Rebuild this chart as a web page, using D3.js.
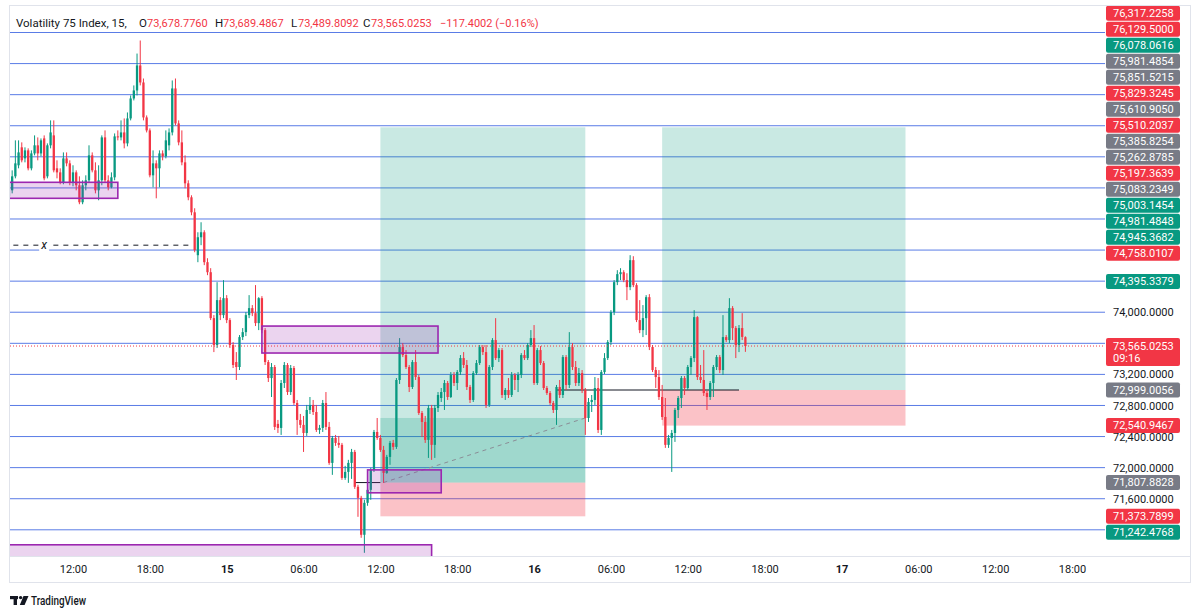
<!DOCTYPE html>
<html><head><meta charset="utf-8">
<script src="https://cdn.jsdelivr.net/npm/d3@7"></script>
<style>
html,body{margin:0;padding:0;background:#fff;}
svg{display:block;font-family:Roboto,"Noto Sans",sans-serif;}
</style></head><body>
<svg id="c" width="1200" height="615"></svg>
<script>
// ---------------- DATA ----------------
const symbolTitle = "Volatility 75 Index, 15,";
const startTime = "2024-05-14T07:00:00Z";
const barMinutes = 15;
const open = [
75492,75569,75749,75891,76122,75980,76083,75852,76044,76148,
76044,76237,75749,76148,76276,75852,75800,75672,75980,75916,
75672,75800,75634,75415,75634,75698,76019,75826,75569,75698,
76250,75698,75608,75736,76263,76250,76314,76173,76494,76751,
76854,77176,76957,76507,76340,75762,75916,75852,76044,76006,
76148,76314,76880,76430,76186,75929,75659,75479,75286,74734,
74965,75029,74644,74515,73924,73578,74156,73963,74181,73899,
73578,73359,73295,73680,73744,73963,74053,73988,73860,74181,
73770,73359,73153,73295,72563,72511,73089,73321,72973,73282,
72832,72614,72550,72446,72742,72807,72716,72485,72511,72832,
72524,72061,72382,72318,72293,71868,71945,72061,72202,71753,
71611,71136,71547,71714,71971,72459,72382,72228,71932,72138,
72318,72267,73128,73552,73449,73295,73038,73359,73166,72703,
72588,72357,72768,72293,72768,72896,72973,73089,72909,73192,
73089,73230,73410,73321,73038,72871,73217,73346,73552,73487,
72807,73295,73642,73410,73513,72935,72999,72935,73192,73128,
73192,73449,73410,73578,73667,73089,73513,73346,73025,72960,
72832,72742,73038,72935,73423,73064,73552,73295,73089,73217,
72999,72639,72845,72871,73025,72485,73230,73410,73616,74001,
74387,74490,74515,74413,74323,74670,74349,73899,73770,73924,
74194,73552,73256,73166,72909,72652,72293,72382,72446,72742,
72896,73153,73025,73295,73410,73937,73166,73128,72960,72909,
73089,73295,73423,73256,73680,73642,74053,73796,73578,73796,
73678.7760];
const high = [
75929,75826,76212,76212,76186,76122,76109,76083,76276,76250,
76237,76276,76173,76469,76469,75955,75852,76057,76057,75955,
75891,75826,75749,75698,75762,76148,76057,75929,75891,76276,
76340,75762,75800,76301,76340,76469,76494,76571,76790,76919,
77329,77497,77008,76533,76366,76083,75955,76083,76083,76340,
76366,76983,77008,76469,76340,76019,75698,75505,75338,75029,
75158,75055,74695,74567,73963,74387,74194,74413,74220,73924,
73616,73487,73706,73796,74001,74220,74092,74349,74194,74207,
73796,73385,73346,73321,72614,73128,73359,73346,73321,73308,
72871,72691,72665,72807,72909,72871,72807,72550,72871,72973,
72588,72408,72421,72408,72318,72023,72100,72241,72228,71779,
71637,71586,71740,71997,72485,72639,72421,72280,72164,72344,
72357,73153,73667,73603,73513,73321,73385,73513,73192,72729,
72665,72807,72807,72807,72973,73025,73128,73115,73230,73230,
73256,73449,73487,73385,73064,73243,73385,73578,73578,73578,
73321,73667,73924,73539,73539,73025,73153,73230,73217,73230,
73474,73513,73603,73770,73835,73539,73565,73372,73051,72986,
72858,73064,73128,73449,73449,73744,73603,73372,73282,73256,
73025,72896,72935,73166,73153,73256,73474,73642,74027,74413,
74541,74567,74541,74502,74734,74721,74374,74156,74092,74220,
74233,73578,73295,73256,73064,72896,72421,72485,72768,72922,
73179,73179,73321,73436,74027,73950,73321,73513,72986,73115,
73321,73449,73449,73963,73706,74181,74079,73822,73835,73988,
73689.4867];
const low = [
75441,75530,75723,75852,75929,75929,75826,75826,76019,75955,
76006,75698,75723,76109,75800,75723,75647,75647,75878,75634,
75621,75569,75390,75390,75569,75672,75800,75530,75441,75634,
75672,75569,75595,75698,76212,76212,76109,76135,76469,76726,
76790,76919,76469,76314,75736,75608,75466,75608,75955,75980,
76083,76276,76405,76148,75891,75595,75441,75248,74772,74644,
74863,74606,74477,73899,73487,73539,73899,73924,73860,73539,
73282,73128,73256,73642,73693,73924,73950,73822,73770,73731,
73321,73102,72909,72485,72446,72421,73025,72935,72935,72807,
72421,72511,72202,72408,72691,72678,72459,72434,72459,72485,
72036,71907,72280,72254,71843,71843,71804,71855,71727,71367,
71097,70904,71509,71586,71945,72357,72202,71804,71920,72036,
72228,72241,73077,73423,73269,72973,73012,73128,72678,72395,
72318,72125,72100,72125,72716,72845,72742,72871,72896,73051,
72999,73192,73282,72999,72832,72845,73192,73321,73449,72768,
72781,73256,73385,73359,72896,72871,72896,72909,72999,72973,
73153,73385,73385,73552,73064,73064,73321,72999,72935,72807,
72703,72550,72896,72896,72999,73025,73256,73051,73051,72960,
72421,72588,72716,72807,72446,72421,73205,73385,73578,73963,
74349,74413,74387,74156,74284,74323,73873,73731,73680,73706,
73513,73230,73025,72871,72614,72254,72254,71945,72331,72639,
72768,72935,72999,73192,73359,73128,73089,72922,72742,72871,
72909,73256,73217,73192,73616,73603,73642,73410,73487,73642,
73489.8092];
const close = [
75698,75749,75916,76057,75955,76083,75852,76044,76148,76044,
76212,75723,76148,76314,75826,75800,75672,75980,75916,75672,
75800,75634,75415,75634,75698,76019,75826,75569,75698,76250,
75698,75608,75736,76263,76250,76314,76173,76494,76751,76854,
77176,76957,76507,76340,75762,75916,75852,76044,76006,76212,
76314,76880,76430,76186,75929,75659,75479,75286,74798,74965,
75029,74644,74515,73924,73578,74156,73963,74181,73899,73578,
73321,73295,73680,73744,73963,74053,73988,73860,74181,73770,
73359,73153,73295,72524,72511,73089,73321,72973,73282,72832,
72614,72550,72446,72742,72807,72716,72485,72511,72832,72524,
72061,72382,72318,72293,71868,71945,72061,72202,71753,71611,
71136,71547,71714,71971,72459,72382,72228,71932,72138,72318,
72267,73128,73552,73449,73295,73038,73359,73166,72703,72588,
72357,72768,72293,72768,72935,72973,73089,72909,73192,73089,
73230,73410,73321,73038,72871,73217,73346,73552,73487,72807,
73295,73642,73410,73513,72935,72999,72935,73192,73128,73192,
73449,73410,73578,73667,73089,73513,73346,73025,72960,72832,
72742,73038,72935,73423,73064,73552,73295,73089,73217,72999,
72639,72845,72871,73025,72485,73230,73410,73616,74001,74387,
74490,74515,74413,74323,74670,74349,73899,73770,73924,74194,
73552,73256,73166,72909,72652,72293,72382,72446,72742,72896,
73153,73025,73295,73410,73937,73166,73128,72960,72909,73089,
73295,73423,73256,73680,73642,74053,73796,73578,73796,73682.4255,
73565.0253];

const priceTicks = [71200,71600,72000,72400,72800,73200,73600,74000,74400,74800,75200,75600,76000,76400,76800,77200,77600];
const timeTicks = ["2024-05-14T12:00:00Z","2024-05-14T18:00:00Z","2024-05-15T00:00:00Z","2024-05-15T06:00:00Z",
  "2024-05-15T12:00:00Z","2024-05-15T18:00:00Z","2024-05-16T00:00:00Z","2024-05-16T06:00:00Z",
  "2024-05-16T12:00:00Z","2024-05-16T18:00:00Z","2024-05-17T00:00:00Z","2024-05-17T06:00:00Z",
  "2024-05-17T12:00:00Z","2024-05-17T18:00:00Z"];

// price-scale labels of drawings
const axisLabelValues = [76317.2258,76129.5000,76078.0616,75981.4854,75851.5215,75829.3245,75610.9050,75510.2037,
  75385.8254,75262.8785,75197.3639,75083.2349,75003.1454,74981.4848,74945.3682,74758.0107,74395.3379,
  72999.0056,72540.9467,71807.8828,71373.7899,71242.4768];
const axisLabelKinds = ["down","down","up","neutral","neutral","down","neutral","down",
  "neutral","neutral","down","neutral","up","up","up","down","up",
  "neutral","down","neutral","down","up"];
const countdown = "09:16";

// rectangles (purple zones)
const boxStart = ["2024-05-14T05:00:00Z","2024-05-15T02:45:00Z","2024-05-15T11:00:00Z","2024-05-14T05:00:00Z"];
const boxEnd   = ["2024-05-14T15:30:00Z","2024-05-15T16:30:00Z","2024-05-15T16:45:00Z","2024-05-15T16:00:00Z"];
const boxTop    = [75672, 73822, 71971, 71007];
const boxBottom = [75466, 73475, 71676, 70600];

// long position tools
const posStart  = ["2024-05-15T12:00:00Z","2024-05-16T10:00:00Z"];
const posEnd    = ["2024-05-16T04:00:00Z","2024-05-17T05:00:00Z"];
const posEntry  = [71807.8828, 72999.0056];
const posStop   = [71373.7899, 72540.9467];
const posTarget = [76380, 76380];
const posProgress = [true, false];

// horizontal segments
const segStart = ["2024-05-15T10:00:00Z","2024-05-16T01:45:00Z"];
const segEnd   = ["2024-05-15T12:00:00Z","2024-05-16T16:00:00Z"];
const segPrice = [71807.8828, 72999.0056];

// dashed level with x marker
const rayPrice = 74863;
const rayStart = "2024-05-14T05:00:00Z";
const rayEnd = "2024-05-14T21:15:00Z";
const rayMarkTime = "2024-05-14T09:45:00Z";

// ---------------- DRAW ----------------
const UP="#089981", DN="#f23645", NEU="#787b86", TXT="#131722", GRID="#5a7ce6";
const pane={l:10,r:1105,t:6,b:556};
const svg=d3.select("#c");
const x=d3.scaleUtc().domain([new Date(timeTicks[0]),new Date(timeTicks[timeTicks.length-1])]).range([73,1072]);
const y=d3.scaleLinear().domain([71200,77600]).range([529.8,32.5]);
const T=s=>new Date(s);
const t0=new Date(startTime).getTime();
const bars=open.map((o,i)=>({t:new Date(t0+i*barMinutes*60000),o,h:high[i],l:low[i],c:close[i]}));
const last=bars[bars.length-1], prev=bars[bars.length-2];

svg.append("rect").attr("width",1200).attr("height",615).attr("fill","#fff");
const defs=svg.append("defs");
defs.append("clipPath").attr("id","pc").append("rect").attr("x",pane.l).attr("y",pane.t).attr("width",pane.r-pane.l).attr("height",pane.b-pane.t);
defs.append("clipPath").attr("id","ac").append("rect").attr("x",pane.r).attr("y",pane.t).attr("width",90).attr("height",pane.b-pane.t);

const plot=svg.append("g").attr("clip-path","url(#pc)");
// grid
plot.append("g").selectAll("line").data(priceTicks).join("line")
  .attr("x1",pane.l).attr("x2",pane.r).attr("y1",d=>y(d)).attr("y2",d=>y(d))
  .attr("stroke",GRID).attr("stroke-width",1);

// position tools
posStart.forEach((s,i)=>{
  const xa=x(T(s)), xb=x(T(posEnd[i]));
  plot.append("rect").attr("x",xa).attr("width",xb-xa).attr("y",y(posTarget[i])).attr("height",y(posEntry[i])-y(posTarget[i]))
    .attr("fill","rgba(8,153,129,0.22)");
  plot.append("rect").attr("x",xa).attr("width",xb-xa).attr("y",y(posEntry[i])).attr("height",y(posStop[i])-y(posEntry[i]))
    .attr("fill","rgba(242,54,69,0.30)");
  if(posProgress[i]){
    const endBar=bars.find(b=>+b.t===+T(posEnd[i]));
    const pc=endBar.c;
    plot.append("rect").attr("x",xa).attr("width",xb-xa).attr("y",y(pc)).attr("height",y(posEntry[i])-y(pc))
      .attr("fill","rgba(8,153,129,0.22)");
    plot.append("line").attr("x1",xa+3).attr("y1",y(posEntry[i])).attr("x2",xb).attr("y2",y(pc))
      .attr("stroke","#8a8d96").attr("stroke-width",1).attr("stroke-dasharray","4,4");
  }
});

// horizontal black segments
segStart.forEach((s,i)=>{
  plot.append("line").attr("x1",x(T(s))).attr("x2",x(T(segEnd[i]))).attr("y1",y(segPrice[i])).attr("y2",y(segPrice[i]))
    .attr("stroke",TXT).attr("stroke-width",1);
});
// dashed ray with x
plot.append("line").attr("x1",x(T(rayStart))).attr("x2",x(T(rayEnd))).attr("y1",y(rayPrice)).attr("y2",y(rayPrice))
  .attr("stroke",TXT).attr("stroke-width",1).attr("stroke-dasharray","5,5");
plot.append("rect").attr("x",x(T(rayMarkTime))-5).attr("y",y(rayPrice)-6).attr("width",10).attr("height",12).attr("fill","#fff");
plot.append("text").attr("x",x(T(rayMarkTime))).attr("y",y(rayPrice)).attr("dy","0.35em").attr("text-anchor","middle")
  .attr("font-size",12).attr("font-style","italic").attr("fill",TXT).text("x");

// candles
const gC=plot.append("g");
gC.selectAll("line").data(bars).join("line")
  .attr("x1",d=>x(d.t)).attr("x2",d=>x(d.t)).attr("y1",d=>y(d.h)).attr("y2",d=>y(d.l))
  .attr("stroke",d=>d.c>=d.o?UP:DN).attr("stroke-width",1);
gC.selectAll("rect").data(bars).join("rect")
  .attr("x",d=>x(d.t)-1.15).attr("width",2.3)
  .attr("y",d=>y(Math.max(d.o,d.c))).attr("height",d=>Math.max(1,Math.abs(y(d.o)-y(d.c))))
  .attr("fill",d=>d.c>=d.o?UP:DN);

// purple zones
boxStart.forEach((s,i)=>{
  const xa=x(T(s)), xb=x(T(boxEnd[i]));
  plot.append("rect").attr("x",xa).attr("width",xb-xa).attr("y",y(boxTop[i])).attr("height",y(boxBottom[i])-y(boxTop[i]))
    .attr("fill","rgba(156,39,176,0.2)").attr("stroke","#9c27b0").attr("stroke-width",1.6);
});

// current price line
plot.append("line").attr("x1",pane.l).attr("x2",pane.r).attr("y1",y(last.c)).attr("y2",y(last.c))
  .attr("stroke",DN).attr("stroke-width",1).attr("stroke-dasharray","1,2");

// ---------- frame ----------
svg.append("rect").attr("x",9.5).attr("y",5.5).attr("width",1181).attr("height",577).attr("fill","none").attr("stroke","#e0e3eb");
svg.append("line").attr("x1",9.5).attr("x2",1190.5).attr("y1",556.5).attr("y2",556.5).attr("stroke","#e0e3eb");

// ---------- time axis ----------
const fmtT=d=>d.getUTCHours()===0&&d.getUTCMinutes()===0?String(d.getUTCDate()):d3.utcFormat("%H:%M")(d);
const xa=svg.append("g").attr("transform",`translate(0,${pane.b})`)
  .call(d3.axisBottom(x).tickValues(timeTicks.map(T)).tickFormat(fmtT).tickSize(0).tickPadding(0));
xa.select(".domain").remove();
xa.selectAll("text").attr("y",13).attr("dy","0.35em").attr("font-size",11).attr("font-family","Roboto,sans-serif")
  .attr("fill",TXT).attr("font-weight",d=>d.getUTCHours()===0?"bold":"normal");

// ---------- drawing label layout (collision stacking) ----------
const fmtP=d3.format(",.4f");
const kindColor={up:UP,down:DN,neutral:NEU};
const labs=axisLabelValues.map((v,i)=>({v,k:axisLabelKinds[i],yy:y(v),h:15}));
const step=16;
const upper=labs.filter(d=>d.yy<300).sort((a,b)=>b.yy-a.yy);
for(let k=1;k<upper.length;k++) upper[k].yy=Math.min(upper[k].yy,upper[k-1].yy-step);
const lower=labs.filter(d=>d.yy>=300).sort((a,b)=>a.yy-b.yy);
for(let k=1;k<lower.length;k++) lower[k].yy=Math.max(lower[k].yy,lower[k-1].yy+step);
const yl=y(last.c);
const boxes=labs.map(d=>[d.yy-7.5,d.yy+7.5]).concat([[yl-8,yl+20]]);

// ---------- price axis ----------
const ax=svg.append("g").attr("clip-path","url(#ac)");
const visibleTicks=priceTicks.filter(v=>{
  const ty=y(v);
  return !boxes.some(b=>Math.min(b[1],ty+6)-Math.max(b[0],ty-6)>5);
});
const ya=ax.append("g").attr("transform",`translate(${pane.r},0)`)
  .call(d3.axisRight(y).tickValues(visibleTicks).tickFormat(fmtP).tickSize(0).tickPadding(8));
ya.select(".domain").remove();
ya.selectAll("text").attr("font-size",11).attr("font-family","Roboto,sans-serif").attr("fill",TXT);

const lg=ax.append("g");
labs.forEach(d=>{
  lg.append("rect").attr("x",1106).attr("y",d.yy-7.5).attr("width",74).attr("height",15).attr("rx",2)
    .attr("fill",kindColor[d.k]);
  lg.append("text").attr("x",1113).attr("y",d.yy).attr("dy","0.35em").attr("font-size",11).attr("fill","#fff").text(fmtP(d.v));
});
lg.append("rect").attr("x",1106).attr("y",yl-8).attr("width",74).attr("height",28).attr("rx",2).attr("fill",DN);
lg.append("text").attr("x",1113).attr("y",yl).attr("dy","0.35em").attr("font-size",11).attr("fill","#fff").text(fmtP(last.c));
lg.append("text").attr("x",1113).attr("y",yl+12).attr("dy","0.35em").attr("font-size",11).attr("fill","#fff").text(countdown);

// ---------- header legend ----------
const chg=last.c-prev.c, pct=chg/prev.c;
const hdr=[
  {t:symbolTitle,x:16,c:TXT,s:11.5},
  {t:"O",x:139,c:TXT,s:11.5},{t:fmtP(last.o),x:147,c:DN,s:11},
  {t:"H",x:215,c:TXT,s:11.5},{t:fmtP(last.h),x:223,c:DN,s:11},
  {t:"L",x:291,c:TXT,s:11.5},{t:fmtP(last.l),x:298,c:DN,s:11},
  {t:"C",x:363,c:TXT,s:11.5},{t:fmtP(last.c),x:371,c:DN,s:11},
  {t:`${d3.format(".4f")(chg)} (${d3.format(".2%")(pct)})`,x:440,c:DN,s:11}
];
const hg=svg.append("g");
hdr.forEach(h=>hg.append("text").attr("x",h.x).attr("y",23).attr("dy","0.35em").attr("font-size",h.s).attr("fill",h.c).text(h.t));

// ---------- TradingView logo ----------
const lgo=svg.append("g").attr("fill",TXT);
lgo.append("rect").attr("x",10).attr("y",596).attr("width",8).attr("height",3.2);
lgo.append("rect").attr("x",13.6).attr("y",596).attr("width",3.4).attr("height",9);
lgo.append("circle").attr("cx",20.6).attr("cy",597.6).attr("r",1.7);
lgo.append("path").attr("d","M23.5,596 L28.5,596 L24.6,605 L19.8,605 Z");
svg.append("text").attr("x",31).attr("y",600.5).attr("dy","0.35em").attr("font-size",12.5).attr("font-weight",500)
  .attr("fill",TXT).attr("textLength",55).attr("lengthAdjust","spacingAndGlyphs").text("TradingView");
</script>
</body></html>
